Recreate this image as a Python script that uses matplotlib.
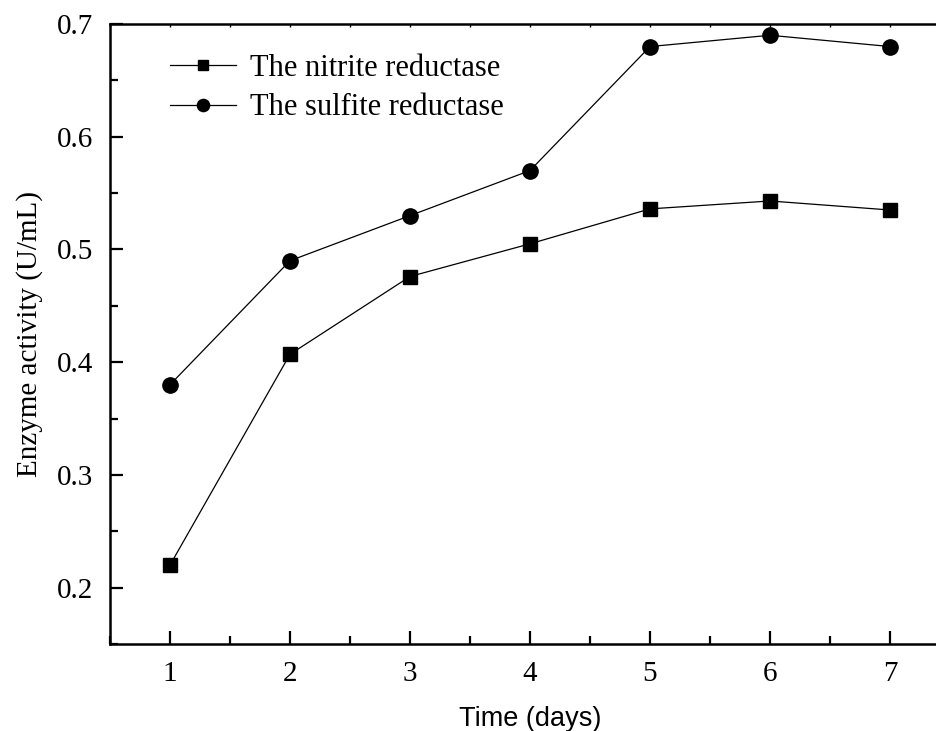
import matplotlib
matplotlib.use("Agg")
import matplotlib.pyplot as plt
from matplotlib.ticker import MultipleLocator

days = [1, 2, 3, 4, 5, 6, 7]
nitrite = [0.220, 0.407, 0.476, 0.505, 0.536, 0.543, 0.535]
sulfite = [0.380, 0.490, 0.530, 0.570, 0.680, 0.690, 0.680]

serif = ["Liberation Serif", "DejaVu Serif"]

fig = plt.figure(figsize=(9.37, 7.31), dpi=100)
# axes run a little past the right edge, as in the original crop
ax = fig.add_axes([110 / 937, 1 - 644 / 731, 840 / 937, 620 / 731])

ax.plot(days, nitrite, color="black", lw=0.9, marker="s", ms=9.5,
        label="The nitrite reductase")
ax.plot(days, sulfite, color="black", lw=0.9, marker="o", ms=11,
        label="The sulfite reductase")

ax.set_xlim(0.5, 7.5)
ax.set_ylim(0.15, 0.7)
ax.xaxis.set_major_locator(MultipleLocator(1))
ax.xaxis.set_minor_locator(MultipleLocator(0.5))
ax.yaxis.set_major_locator(MultipleLocator(0.1))
ax.yaxis.set_minor_locator(MultipleLocator(0.05))

ax.tick_params(which="major", direction="in", length=9.5, width=1.6,
               labelsize=21, pad=12, top=True, right=False)
ax.tick_params(which="minor", direction="in", length=5.5, width=1.6,
               top=True, right=False)
for t in ax.get_xticklabels() + ax.get_yticklabels():
    t.set_family(serif)
for tick in ax.xaxis.get_major_ticks() + ax.xaxis.get_minor_ticks():
    tick.tick2line.set_markersize(2)
    tick.tick2line.set_markeredgewidth(1)

for s in ["left", "bottom", "top"]:
    ax.spines[s].set_linewidth(1.8)
ax.spines["right"].set_visible(False)

ax.set_ylabel("Enzyme activity (U/mL)", family=serif, fontsize=21, labelpad=10)
ax.set_xlabel("Time (days)", family="Liberation Sans", fontsize=19.5, labelpad=14)

ax.legend(loc="upper left", bbox_to_anchor=(0.057, 0.972), frameon=False,
          prop={"family": serif, "size": 22}, handlelength=2.15,
          handletextpad=0.45, labelspacing=0.35, borderaxespad=0,
          markerscale=0.8)

fig.savefig("out.png", dpi=100)
